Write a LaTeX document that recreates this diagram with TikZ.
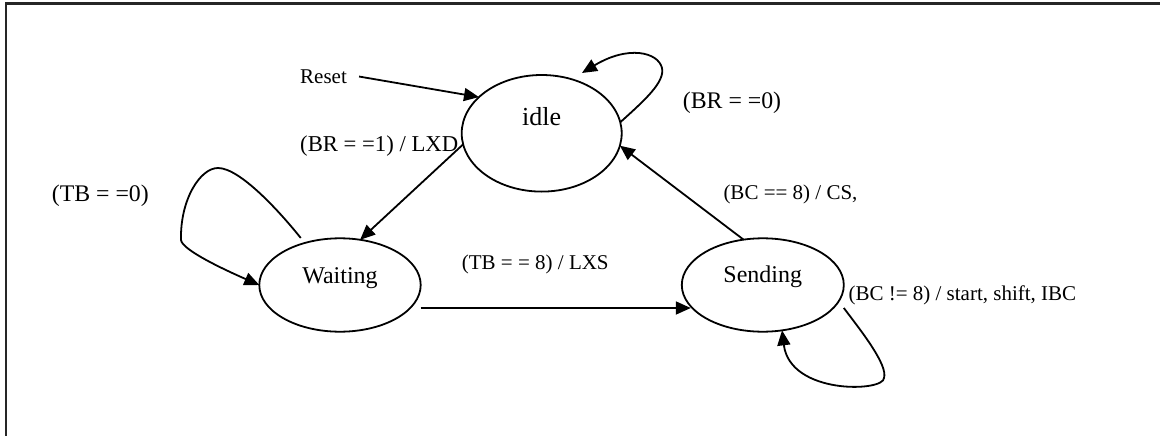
\documentclass[tikz,border=0pt]{standalone}
\usepackage{fontspec}
\setmainfont{Liberation Serif}
\usetikzlibrary{arrows.meta,shapes.geometric}

\begin{document}
\begin{tikzpicture}[x=1pt,y=-1pt,
  state/.style={draw,ellipse,line width=1.8pt,inner sep=0pt,outer sep=0pt,
    font=\fontsize{24}{28}\selectfont,text height=0pt},
  lbl/.style={inner sep=0pt,anchor=base west,font=\fontsize{21}{25}\selectfont},
  biglbl/.style={lbl,font=\fontsize{23.8}{28}\selectfont},
  arr/.style={line width=1.8pt,-{Triangle[length=15pt,width=13pt]}}]
\useasboundingbox (0,0) rectangle (1160,436);

% frame
\draw[line width=2.2pt,black!85] (6,436) -- (6,3.5) -- (1160,3.5);

% states
\node[state,minimum width=160pt,minimum height=116.6pt,
      font=\fontsize{26}{30}\selectfont,text depth=16.6pt] (idle) at (541.7,133.3) {idle};
\node[state,minimum width=161.4pt,minimum height=93.4pt,text depth=3.4pt]
      (Waiting) at (340,285) {Waiting};
\node[state,minimum width=162pt,minimum height=93.4pt,text depth=4.6pt]
      (Sending) at (762.8,285) {Sending};

% labels
\node[lbl] (reset) at (300,83.3) {Reset};
\node[lbl,font=\fontsize{22.7}{27}\selectfont] (brone) at (300,151.7) {(BR = =1) / LXD};
\node[biglbl] (tbzero) at (51.7,201.7) {(TB = =0)};
\node[biglbl] (brzero) at (682.7,109) {(BR = =0)};
\node[lbl] (bceight) at (723.3,199.3) {(BC == 8) / CS,};
\node[lbl] (tbeight) at (461.7,269) {(TB = = 8) / LXS};
\node[lbl] (bcne) at (848.3,300.7) {(BC != 8) / start, shift, IBC};

% transitions
\draw[arr] ([xshift=12pt]reset.east) -- (idle.150);
\draw[arr] (idle.188) -- (Waiting.66);
\draw[arr] ([yshift=-23pt]Waiting.east) -- ([shift={(9pt,-23pt)}]Sending.west);
\draw[arr] (Sending.113) -- (idle.-9);

% self loops
\draw[arr] (idle.8) .. controls (645,100) and (665,82) .. (662,68)
  .. controls (658,52) and (628,45) .. ([shift={(5pt,8pt)}]idle.56);
\draw[arr] ([shift={(-4pt,5pt)}]Waiting.130) .. controls (280,212) and (240,168) .. (218,168)
  .. controls (200,168) and (180,200) .. (181,240)
  .. controls (182,250) and (225,270) .. (Waiting.west);
\draw[arr] ([yshift=-23pt]Sending.east) .. controls (862,332) and (888,365) .. (884,378)
  .. controls (884,392) and (790,395) .. (Sending.-67);
\end{tikzpicture}
\end{document}
